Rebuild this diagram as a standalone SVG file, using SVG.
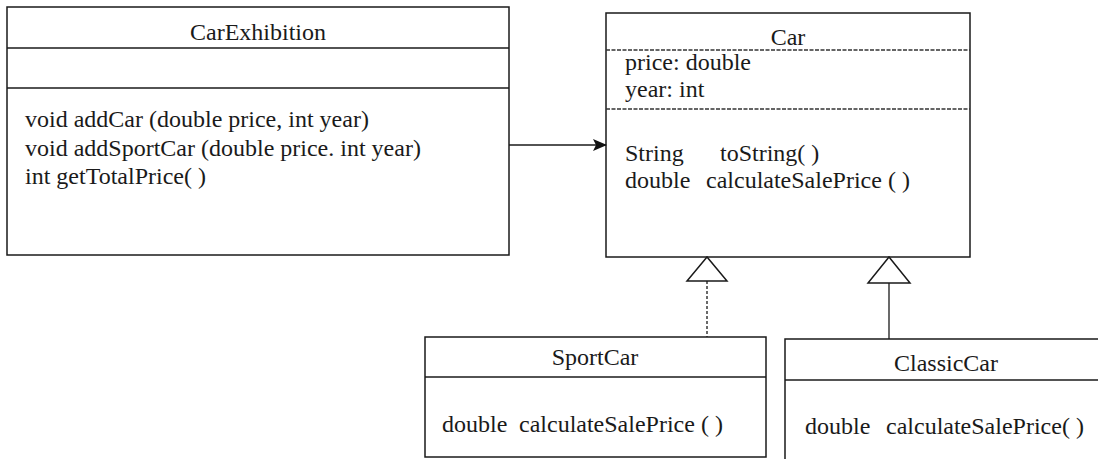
<svg xmlns="http://www.w3.org/2000/svg" width="1098" height="459" viewBox="0 0 1098 459">
<style>
.box{fill:#fff;stroke:#1a1a1a;stroke-width:1.5}
.sep{stroke:#1a1a1a;stroke-width:1.5}
.dot{stroke:#333;stroke-width:1.3;stroke-dasharray:4 1.5}
.t{font-family:"Liberation Serif","Times New Roman",serif;font-size:24px;fill:#1a1a1a}
.c{text-anchor:middle}
.conn{stroke:#1a1a1a;stroke-width:1.3;fill:none}
.tri{fill:#fff;stroke:#1a1a1a;stroke-width:1.5}
</style>
<defs>
<marker id="arr" markerWidth="14" markerHeight="12" refX="13" refY="6" orient="auto" markerUnits="userSpaceOnUse">
<path d="M0,0 L14,6 L0,12 L3,6 Z" fill="#111"/>
</marker>
</defs>
<rect width="1098" height="459" fill="#fff"/>
<g id="CarExhibition">
<rect class="box" x="7" y="7" width="502" height="248"/>
<line class="sep" x1="7" y1="48" x2="509" y2="48"/>
<line class="sep" x1="7" y1="88" x2="509" y2="88"/>
<text class="t c" x="258" y="40">CarExhibition</text>
<text class="t" x="25" y="127">void addCar (double price, int year)</text>
<text class="t" x="25" y="156">void addSportCar (double price. int year)</text>
<text class="t" x="25" y="184">int getTotalPrice( )</text>
</g>
<g id="Car">
<rect class="box" x="606" y="13" width="364" height="244"/>
<line class="dot" x1="606" y1="50" x2="970" y2="50"/>
<line class="dot" x1="606" y1="109" x2="970" y2="109"/>
<text class="t c" x="788" y="45">Car</text>
<text class="t" x="625" y="70">price: double</text>
<text class="t" x="625" y="97">year: int</text>
<text class="t" x="625" y="161">String</text>
<text class="t" x="720" y="161">toString( )</text>
<text class="t" x="625" y="188">double</text>
<text class="t" x="706" y="188">calculateSalePrice ( )</text>
</g>
<g id="SportCar">
<rect class="box" x="425" y="337" width="341" height="120"/>
<line class="sep" x1="425" y1="377" x2="766" y2="377"/>
<text class="t c" x="595" y="365">SportCar</text>
<text class="t" x="442" y="432">double</text>
<text class="t" x="519" y="432">calculateSalePrice ( )</text>
</g>
<g id="ClassicCar">
<rect class="box" x="785" y="339" width="340" height="140"/>
<line class="sep" x1="785" y1="380" x2="1098" y2="380"/>
<text class="t c" x="946" y="371">ClassicCar</text>
<text class="t" x="805" y="434">double</text>
<text class="t" x="886" y="434">calculateSalePrice( )</text>
</g>
<g id="connectors">
<line class="conn" x1="509" y1="145" x2="606" y2="145" marker-end="url(#arr)"/>
<polygon class="tri" points="707,257 687,281 727,281"/>
<line class="conn" x1="707" y1="281" x2="707" y2="337" stroke-dasharray="3 2"/>
<polygon class="tri" points="889,257 868,283 910,283"/>
<line class="conn" x1="889" y1="283" x2="889" y2="339"/>
</g>
</svg>
